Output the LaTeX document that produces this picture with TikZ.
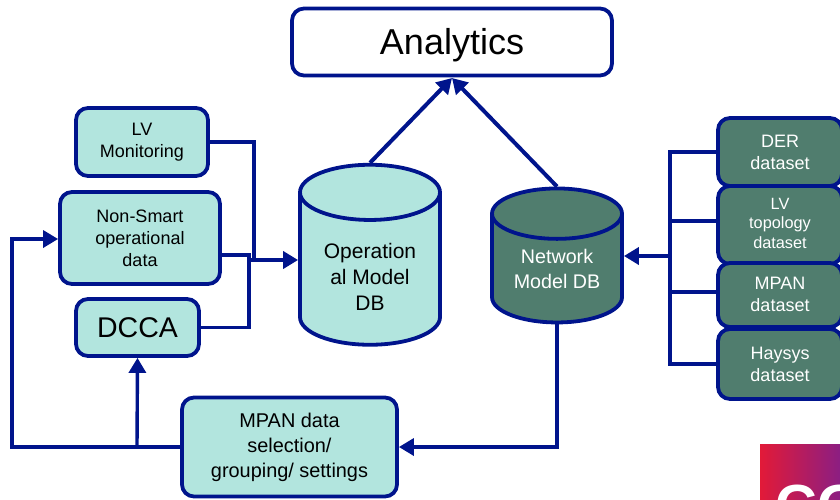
\documentclass[tikz,border=0pt]{standalone}
\usepackage{fontspec}
\setmainfont{Liberation Sans}
\usetikzlibrary{arrows.meta,shapes.geometric}
\definecolor{navyline}{RGB}{0,20,140}
\definecolor{lightbox}{RGB}{178,229,222}
\definecolor{darkbox}{RGB}{80,125,110}
\definecolor{logored}{RGB}{226,26,56}
\definecolor{logopurple}{RGB}{140,30,130}
\newcommand{\dbtext}[2]{\raisebox{-#1}[\height][\depth]{\parbox[c]{120pt}{\centering #2}}}
\begin{document}
\begin{tikzpicture}[x=1pt,y=-1pt,
    lightnode/.style={draw=navyline,line width=3.8pt,rounded corners=12pt,fill=lightbox,align=center,font=\fontsize{18}{22}\selectfont,inner sep=0pt},
    darknode/.style={lightnode,fill=darkbox,text=white},
    lowtext/.style={execute at begin node={\rule{0pt}{#1}}},
    dbnode/.style={draw=navyline,line width=3.8pt,shape=cylinder,shape border rotate=90,inner sep=0pt,font=\fontsize{19.7}{25.5}\selectfont},
    link/.style={draw=navyline,line width=3.4pt},
    linkarrow/.style={link,-{Triangle[length=15pt,width=17pt]}}]
    \useasboundingbox (0,0) rectangle (840,499);
    % logo in the corner
    \begin{scope}
    \clip (760,444) rectangle (840,499);
    \shade[left color=logored,right color=logopurple] (760,444) rectangle (840,499);
    \node[text=white,font=\bfseries\fontsize{58}{58}\selectfont,anchor=west,inner sep=0pt] (logo) at (775,506) {CG};
    \end{scope}
    % boxes
    \node[lightnode,minimum width=320pt,minimum height=67pt,fill=white,font=\fontsize{36}{40}\selectfont,lowtext=32pt] (analytics) at (452,42) {Analytics};
    \node[lightnode,lowtext=21pt,minimum width=132pt,minimum height=68pt] (lvmon) at (142,142) {LV\\Monitoring};
    \node[lightnode,lowtext=17pt,minimum width=160pt,minimum height=92pt] (nonsmart) at (140,238) {Non-Smart\\operational\\data};
    \node[lightnode,minimum width=123pt,minimum height=57pt,font=\fontsize{28.5}{30}\selectfont] (dcca) at (137.5,327.5) {DCCA};
    \node[lightnode,lowtext=22pt,minimum width=215pt,minimum height=99pt,font=\fontsize{19.9}{25}\selectfont] (mpandata) at (289.5,447) {MPAN data\\selection/\\grouping/ settings};
    \node[darknode,lowtext=15pt,minimum width=124pt,minimum height=68pt] (der) at (780,152) {DER\\dataset};
    \node[darknode,minimum width=124pt,minimum height=78pt,font=\fontsize{16.3}{19.5}\selectfont] (topo) at (780,225) {LV\\topology\\dataset\rule[-4pt]{0pt}{4pt}};
    \node[darknode,minimum width=124pt,minimum height=64pt] (mpan) at (780,295) {MPAN\\dataset\rule[-2pt]{0pt}{2pt}};
    \node[darknode,lowtext=15pt,minimum width=124pt,minimum height=70pt] (haysys) at (780,364) {Haysys\\dataset};
    % databases
    \node[dbnode,fill=lightbox,font=\fontsize{21}{26}\selectfont,minimum width=140pt,minimum height=180pt,aspect=.46] (opdb) at (370,269.5) {\dbtext{7pt}{Operation\\al Model\\DB}};
    \node[dbnode,fill=darkbox,text=white,minimum width=130pt,minimum height=134pt,aspect=.42] (netdb) at (557,269) {\dbtext{0pt}{Network\\Model DB}};
    % links
    \coordinate (lvcorner) at (254,260);
    \coordinate (nscorner) at (249,260);
    \coordinate (gather) at (670,256);
    \coordinate (leftturn) at (12,239);
    \coordinate (dccaturn) at (137,447);
    \draw[linkarrow,line width=4pt] (opdb.north) -- (452,78);
    \draw[linkarrow,line width=4pt] (netdb.north) -- (452,78);
    \draw[link] (lvmon.east) -| (lvcorner);
    \draw[link] (nonsmart.east |- 0,255) -| (nscorner);
    \draw[link] (dcca.east) -| (nscorner);
    \draw[linkarrow,line width=4.5pt] (nscorner) -- (opdb.west |- nscorner);
    \draw[link] (der.west) -| (gather);
    \draw[link] (haysys.west) -| (gather);
    \draw[link] (topo.west |- 0,221) -- (gather |- 0,221);
    \draw[link] (mpan.west |- 0,292) -- (gather |- 0,292);
    \draw[linkarrow,line width=4.5pt] (gather) -- (netdb.east |- gather);
    \draw[linkarrow] (netdb.south) |- (mpandata.east);
    \draw[linkarrow] (mpandata.west) -| (leftturn) -- (nonsmart.west |- leftturn);
    \draw[linkarrow] (dccaturn) -- (dcca.south);
\end{tikzpicture}
\end{document}
